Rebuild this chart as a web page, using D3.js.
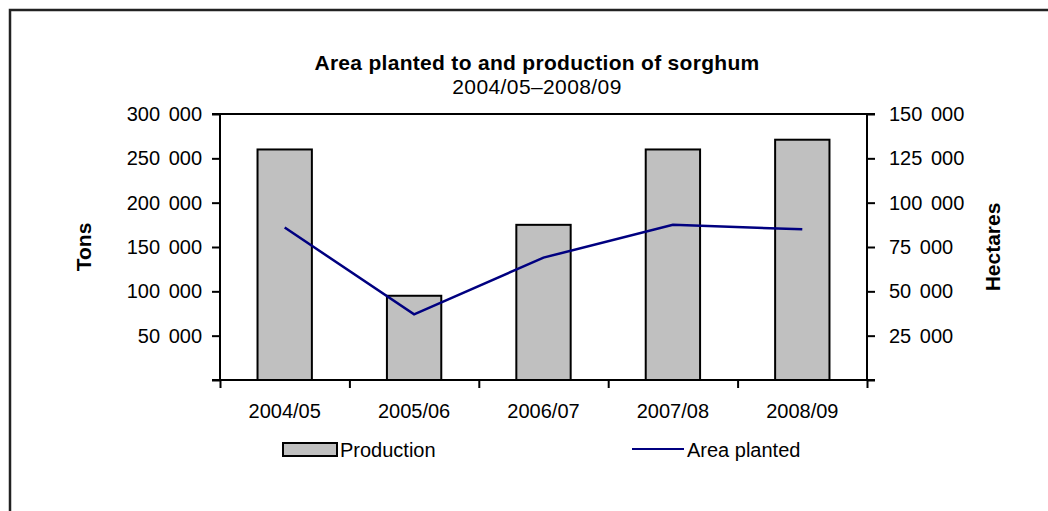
<!DOCTYPE html>
<html>
<head>
<meta charset="utf-8">
<script src="https://cdn.jsdelivr.net/npm/d3@7"></script>
<style>
  html, body { margin: 0; padding: 0; background: #fff; }
  svg { display: block; font-family: "Liberation Sans", Arial, sans-serif; }
</style>
</head>
<body>
<svg id="chart" width="1048" height="511"></svg>
<script>
const categories = ["2004/05", "2005/06", "2006/07", "2007/08", "2008/09"];
const production = [260000, 95000, 175000, 260000, 271000];   // tons
const areaPlanted = [86000, 37000, 69000, 87500, 85000];      // hectares
const leftTicks = [0, 50000, 100000, 150000, 200000, 250000, 300000];
const rightTicks = [0, 25000, 50000, 75000, 100000, 125000, 150000];
const title = "Area planted to and production of sorghum";
const subtitle = "2004/05\u20132008/09";

const svg = d3.select("#chart");
const W = 1048, H = 511;
const m = { left: 220, right: 1048 - 867, top: 114, bottom: 511 - 380 };
const pw = W - m.left - m.right, ph = H - m.top - m.bottom;

const locale = d3.formatLocale({ decimal: ".", thousands: " ", grouping: [3], currency: ["", ""] });
const fmt = locale.format(",d");

// outer frame
svg.append("path")
  .attr("d", `M10,${H} L10,10 L${W},10`)
  .attr("fill", "none").attr("stroke", "#222").attr("stroke-width", 2.5);

const g = svg.append("g").attr("transform", `translate(${m.left},${m.top})`);

const x = d3.scaleBand().domain(categories).range([0, pw]).padding(0);
const yL = d3.scaleLinear().domain([0, 300000]).range([ph, 0]);
const yR = d3.scaleLinear().domain([0, 150000]).range([ph, 0]);

// bars
const bw = x.bandwidth() * 0.42;
g.selectAll("rect.bar").data(categories).join("rect")
  .attr("class", "bar")
  .attr("x", d => x(d) + x.bandwidth() / 2 - bw / 2)
  .attr("y", (d, i) => yL(production[i]))
  .attr("width", bw)
  .attr("height", (d, i) => ph - yL(production[i]))
  .attr("fill", "#c0c0c0").attr("stroke", "#000").attr("stroke-width", 2);

// line
const line = d3.line()
  .x((d, i) => x(categories[i]) + x.bandwidth() / 2)
  .y(d => yR(d));
g.append("path").datum(areaPlanted)
  .attr("d", line)
  .attr("fill", "none").attr("stroke", "#000080").attr("stroke-width", 2.5);

// top frame line
g.append("line").attr("x1", 0).attr("x2", pw).attr("y1", 0).attr("y2", 0)
  .attr("stroke", "#000").attr("stroke-width", 2);

// axes
const axL = d3.axisLeft(yL).tickValues(leftTicks).tickSize(8).tickPadding(10)
  .tickFormat(d => d === 0 ? "" : fmt(d));
const axR = d3.axisRight(yR).tickValues(rightTicks).tickSize(8).tickPadding(14)
  .tickFormat(d => d === 0 ? "" : fmt(d));
const bounds = d3.range(categories.length + 1).map(i => i * x.step());
const xLin = d3.scaleLinear().domain([0, pw]).range([0, pw]);
const axB = d3.axisBottom(xLin).tickValues(bounds).tickSize(8).tickFormat("");

function style(sel) {
  sel.select(".domain").attr("stroke", "#000").attr("stroke-width", 2);
  sel.selectAll(".tick line").attr("stroke", "#000").attr("stroke-width", 2);
  sel.selectAll(".tick text").attr("fill", "#000").style("font-size", "20px")
    .style("word-spacing", "3px")
    .style("font-family", "'Liberation Sans', Arial, sans-serif");
}
g.append("g").call(axL).call(style).call(s => s.select(".domain").attr("d", `M-8,${ph}H0V0H-8`));
g.append("g").attr("transform", `translate(${pw},0)`).call(axR).call(style)
  .call(s => s.select(".domain").attr("d", `M8,${ph}H0V0H8`));
g.append("g").attr("transform", `translate(0,${ph})`).call(axB).call(style)
  .call(s => s.select(".domain").attr("d", `M-8,0H${pw + 8}`));

// category labels
g.selectAll("text.cat").data(categories).join("text")
  .attr("class", "cat")
  .attr("x", d => x(d) + x.bandwidth() / 2)
  .attr("y", ph + 38)
  .attr("text-anchor", "middle")
  .style("font-size", "20px").attr("fill", "#000")
  .text(d => d);

// titles
svg.append("text").attr("x", 537).attr("y", 70).attr("text-anchor", "middle")
  .style("font-size", "21px").style("font-weight", "bold").style("letter-spacing", "0.3px").text(title);
svg.append("text").attr("x", 537).attr("y", 94).attr("text-anchor", "middle")
  .style("font-size", "21px").style("letter-spacing", "0.4px").text(subtitle);

// axis titles
svg.append("text").attr("transform", `translate(91,${m.top + ph / 2}) rotate(-90)`)
  .attr("text-anchor", "middle").style("font-size", "21px").style("font-weight", "bold").text("Tons");
svg.append("text").attr("transform", `translate(1000,${m.top + ph / 2}) rotate(-90)`)
  .attr("text-anchor", "middle").style("font-size", "21px").style("font-weight", "bold").text("Hectares");

// legend
const lg = svg.append("g");
lg.append("rect").attr("x", 283).attr("y", 443).attr("width", 54).attr("height", 13)
  .attr("fill", "#c0c0c0").attr("stroke", "#000").attr("stroke-width", 2);
lg.append("text").attr("x", 340).attr("y", 457).style("font-size", "20px").text("Production");
lg.append("line").attr("x1", 632).attr("x2", 684).attr("y1", 449).attr("y2", 449)
  .attr("stroke", "#000080").attr("stroke-width", 2);
lg.append("text").attr("x", 687).attr("y", 457).style("font-size", "20px").text("Area planted");
</script>
</body>
</html>
